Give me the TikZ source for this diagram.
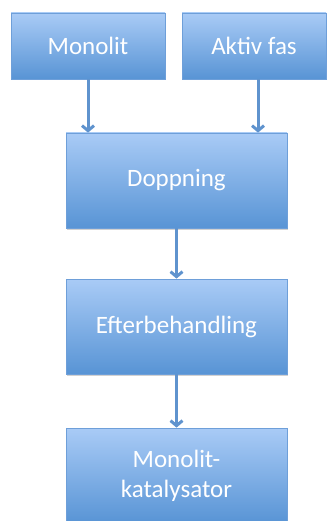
\documentclass[tikz,border=0pt]{standalone}
\usepackage{fontspec}
\setmainfont{Carlito}
\usetikzlibrary{arrows.meta,shadows}
\definecolor{boxtop}{HTML}{A9CBF6}
\definecolor{boxbot}{HTML}{5894D5}
\definecolor{boxline}{HTML}{6E9FD9}
\definecolor{arrowcol}{HTML}{5F93CE}
\begin{document}
\begin{tikzpicture}[x=1pt,y=1pt,
  box/.style={draw=boxline, line width=0.8pt, top color=boxtop, bottom color=boxbot,
    text=white, font=\fontsize{25}{30}\selectfont, inner sep=0pt, align=center,
    drop shadow={shadow xshift=1pt,shadow yshift=-1.5pt,opacity=0.3,fill=black!60}},
  arr/.style={draw=arrowcol, line width=3pt, -{Straight Barb[length=5pt,width=12pt]}}]
\useasboundingbox (0,0) rectangle (329,-521);
\clip (0,0) rectangle (329,-521);
\node[box, minimum width=154pt, minimum height=66pt] (m1) at (88,-46) {Monolit};
\node[box, minimum width=144pt, minimum height=66pt] (m2) at (254,-46) {Aktiv fas};
\node[box, minimum width=221pt, minimum height=95pt] (dop) at (176.5,-180.5) {Doppning};
\node[box, minimum width=221pt, minimum height=95pt] (eft) at (176.5,-326.5) {Efterbehandling};
\node[box, minimum width=221pt, minimum height=95pt] (kat) at (176.5,-475.5) {Monolit-\\katalysator};
\coordinate (a2) at ([xshift=4pt]m2.south);
\draw[arr] (m1.south) -- (m1.south |- dop.north);
\draw[arr] (a2) -- (a2 |- dop.north);
\draw[arr] (dop.south) -- (eft.north);
\draw[arr] (eft.south) -- (kat.north);
\end{tikzpicture}
\end{document}
